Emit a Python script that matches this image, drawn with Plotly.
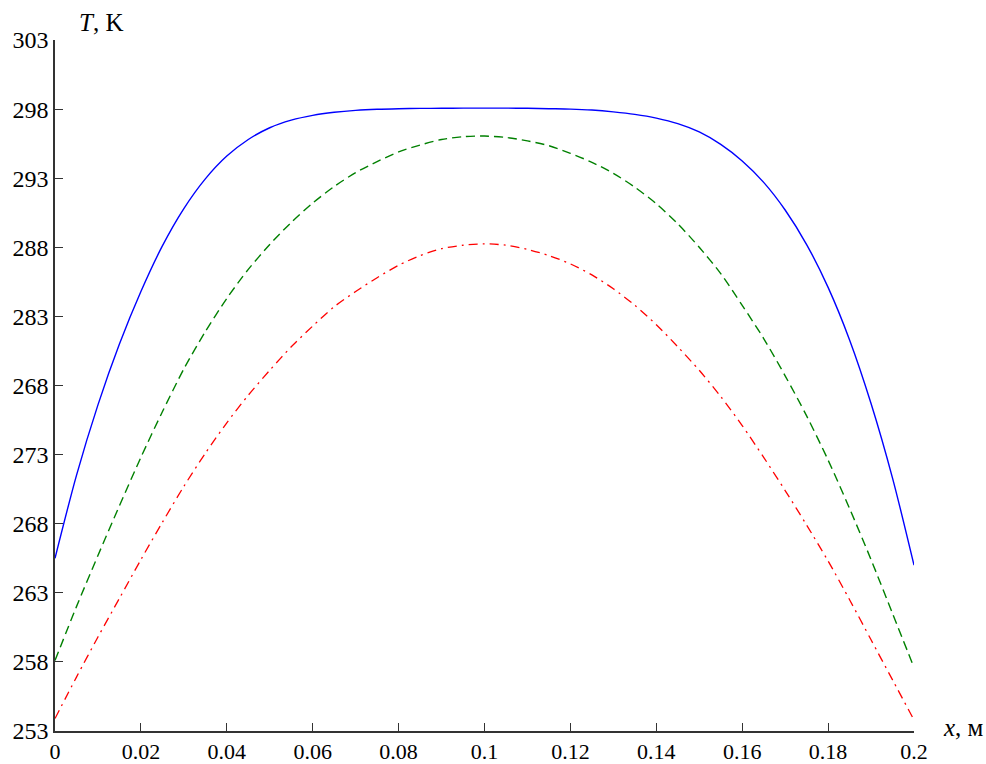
import plotly.graph_objects as go

x_grid = [0, 0.005, 0.01, 0.015, 0.02, 0.025, 0.03, 0.035, 0.04, 0.045,
          0.05, 0.055, 0.06, 0.065, 0.07, 0.075, 0.08, 0.085, 0.09, 0.095,
          0.1, 0.105, 0.11, 0.115, 0.12, 0.125, 0.13, 0.135, 0.14, 0.145,
          0.15, 0.155, 0.16, 0.165, 0.17, 0.175, 0.18, 0.185, 0.19, 0.195, 0.2]

# Blue (solid) curve
t_blue = [265.5, 271.5, 276.6, 281.0, 284.8, 288.1, 290.8, 292.95, 294.6, 295.8,
          296.65, 297.2, 297.55, 297.77, 297.91, 297.99, 298.03, 298.05, 298.06, 298.07,
          298.07, 298.07, 298.06, 298.03, 298.0, 297.93, 297.8, 297.62, 297.35, 296.95,
          296.35, 295.45, 294.25, 292.7, 290.7, 288.2, 285.1, 281.3, 276.7, 271.3, 265.0]

# Green (dashed) curve
t_green = [258.1, 262.0, 265.7, 269.3, 272.8, 276.1, 279.2, 281.9, 284.3, 286.4,
           288.2, 289.8, 291.2, 292.4, 293.4, 294.2, 294.9, 295.4, 295.8, 296.0,
           296.05, 295.95, 295.7, 295.35, 294.8, 294.15, 293.35, 292.35, 291.15, 289.7,
           288.0, 286.1, 283.8, 281.4, 278.7, 275.8, 272.6, 269.1, 265.4, 261.5, 257.6]

# Red (dash-dot) curve
t_red = [253.9, 256.9, 259.8, 262.6, 265.4, 268.1, 270.7, 273.1, 275.3, 277.3,
         279.1, 280.8, 282.3, 283.7, 284.8, 285.8, 286.7, 287.4, 287.9, 288.15,
         288.25, 288.15, 287.85, 287.4, 286.8, 286.0, 285.0, 283.8, 282.4, 280.8,
         279.1, 277.2, 275.1, 272.8, 270.4, 267.9, 265.3, 262.5, 259.6, 256.7, 253.8]

x_tickvals = [0, 0.02, 0.04, 0.06, 0.08, 0.1, 0.12, 0.14, 0.16, 0.18, 0.2]
x_ticktext = ["0", "0.02", "0.04", "0.06", "0.08", "0.1", "0.12", "0.14", "0.16", "0.18", "0.2"]
y_tickvals = [253, 258, 263, 268, 273, 278, 283, 288, 293, 298, 303]
y_ticktext = ["253", "258", "263", "268", "273", "268", "283", "288", "293", "298", "303"]

fig = go.Figure()
fig.add_trace(go.Scatter(x=x_grid, y=t_blue, mode="lines", line_shape="spline",
                         line=dict(color="#0000FF", width=1.4, smoothing=0.8)))
fig.add_trace(go.Scatter(x=x_grid, y=t_green, mode="lines", line_shape="spline",
                         line=dict(color="#008000", width=1.4, dash="9px,5px", smoothing=0.8)))
fig.add_trace(go.Scatter(x=x_grid, y=t_red, mode="lines", line_shape="spline",
                         line=dict(color="#FF0000", width=1.3, dash="9px,5px,2px,5px",
                                   smoothing=0.8)))

serif = "Liberation Serif, Times New Roman, serif"
fig.update_xaxes(range=[0, 0.2], tickvals=x_tickvals, ticktext=x_ticktext,
                 ticks="inside", ticklen=8, tickcolor="#333", tickwidth=1.2,
                 showline=True, linecolor="#333", linewidth=1.5, showgrid=False,
                 zeroline=False, automargin=False,
                 tickfont=dict(family=serif, size=22, color="black"))
fig.update_yaxes(range=[253, 303], tickvals=y_tickvals, ticktext=y_ticktext,
                 ticks="inside", ticklen=8, tickcolor="#333", tickwidth=1.2,
                 showline=True, linecolor="#333", linewidth=1.5, showgrid=False,
                 zeroline=False, automargin=False,
                 tickfont=dict(family=serif, size=24, color="black"))

fig.add_annotation(text="<i>T</i>, K", xref="paper", yref="paper", x=0.026, y=1.026,
                   xanchor="left", yanchor="middle", showarrow=False,
                   font=dict(family=serif, size=25, color="black"))
fig.add_annotation(text="<i>x</i>, м", xref="paper", yref="paper", x=1.032, y=0.005,
                   xanchor="left", yanchor="middle", showarrow=False,
                   font=dict(family=serif, size=25, color="black"))

fig.update_layout(width=986, height=764, showlegend=False,
                  margin=dict(l=55, r=72, t=40, b=33, autoexpand=False),
                  plot_bgcolor="white", paper_bgcolor="white")

fig.write_html("out.html")
